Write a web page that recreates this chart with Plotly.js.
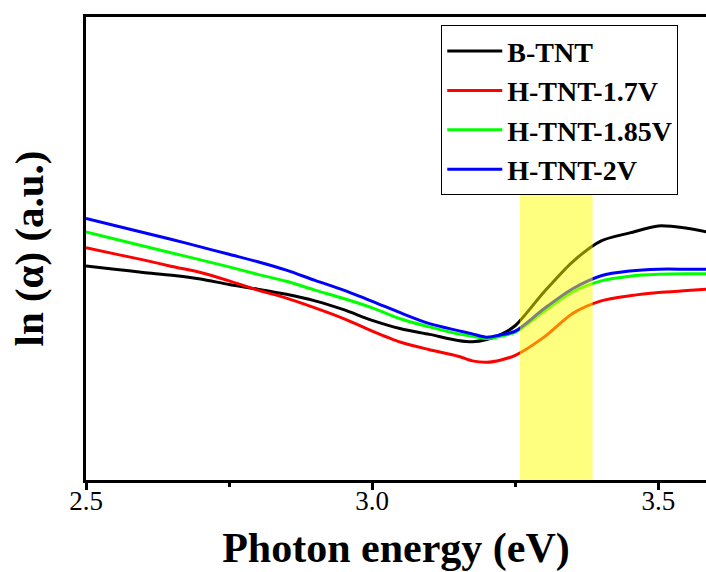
<!DOCTYPE html>
<html>
<head>
<meta charset="utf-8">
<script src="https://cdn.plot.ly/plotly-3.0.1.min.js"></script>
<style>html,body{margin:0;padding:0;background:#fff;}#chart{width:706px;height:572px;}</style>
</head>
<body>
<div id="chart"></div>
<script>
// Photon energy (eV)
const energy = [2.50, 2.55, 2.60, 2.65, 2.70, 2.75, 2.80, 2.85, 2.90, 2.95, 3.00, 3.05, 3.10, 3.15, 3.175, 3.20, 3.225, 3.25, 3.30, 3.35, 3.40, 3.45, 3.50, 3.55, 3.585];
// ln(alpha), arbitrary units
const bTNT    = [46.2, 45.5, 44.8, 44.2, 43.4, 42.2, 41.2, 40.1, 38.7, 36.8, 34.5, 32.7, 31.5, 30.2, 29.9, 30.4, 31.5, 33.4, 40.6, 47.1, 51.6, 53.3, 54.8, 54.3, 53.5];
const hTNT17  = [50.1, 48.8, 47.5, 46.1, 44.8, 43.0, 41.0, 39.3, 37.2, 34.9, 32.2, 29.8, 28.2, 26.8, 25.8, 25.5, 26.0, 27.0, 30.9, 36.0, 38.7, 39.8, 40.5, 40.9, 41.2];
const hTNT185 = [53.5, 52.0, 50.5, 49.0, 47.5, 46.0, 44.4, 42.9, 41.0, 39.2, 37.2, 34.8, 33.1, 31.6, 31.1, 30.6, 31.1, 32.0, 36.4, 40.6, 43.0, 44.0, 44.4, 44.5, 44.5];
const hTNT2   = [56.4, 54.9, 53.4, 51.9, 50.3, 48.7, 47.1, 45.3, 43.1, 41.0, 38.6, 36.1, 33.8, 32.3, 31.6, 30.9, 31.4, 32.2, 37.0, 41.3, 44.1, 45.1, 45.5, 45.5, 45.5];
const seriesNames = ['B-TNT', 'H-TNT-1.7V', 'H-TNT-1.85V', 'H-TNT-2V'];
const seriesColors = ['#000000', '#ff0000', '#00ff00', '#0000ff'];
// highlighted band (eV) and its top (a.u.)
const bandX = [3.258, 3.385];
const bandTop = 62.8;
const xTickVals = [2.5, 3.0, 3.5];
const xTickText = ['2.5', '3.0', '3.5'];

const ys = [bTNT, hTNT17, hTNT185, hTNT2];
const traces = ys.map((y, i) => ({
  x: energy, y: y, type: 'scatter', mode: 'lines', name: seriesNames[i],
  line: {color: seriesColors[i], width: 3, shape: 'spline', smoothing: 0.8}
}));

const serif = 'Liberation Serif';
const layout = {
  width: 706, height: 572,
  font: {family: serif, color: '#000'},
  margin: {l: 86, r: 0, t: 17, b: 92, pad: 0},
  paper_bgcolor: '#fff', plot_bgcolor: '#fff',
  showlegend: true,
  legend: {
    x: 0.573, y: 0.982, xanchor: 'left', yanchor: 'top',
    bgcolor: '#fff', bordercolor: '#000', borderwidth: 1,
    font: {family: serif, size: 28, color: '#000', weight: 'bold'},
    itemwidth: 55,
    tracegroupgap: 0
  },
  xaxis: {
    range: [2.5, 3.583], showgrid: false, zeroline: false,
    showline: true, linecolor: '#000', linewidth: 3, mirror: true,
    ticks: 'outside', ticklen: 7, tickwidth: 3, tickcolor: '#000',
    tickvals: xTickVals, ticktext: xTickText,
    tickfont: {family: serif, size: 27, color: '#000'},
    ticklabelposition: 'outside', ticklabelstandoff: -12,
    minor: {dtick: 0.5, tick0: 2.75, ticks: 'outside', ticklen: 4, tickwidth: 3, tickcolor: '#000', showgrid: false},
    title: {text: 'Photon energy (eV)', font: {family: serif, size: 42, color: '#000', weight: 'bold'}, standoff: 22}
  },
  yaxis: {
    range: [0.2, 99.7], showgrid: false, zeroline: false,
    showline: true, linecolor: '#000', linewidth: 3, mirror: false,
    ticks: '', showticklabels: false,
    title: {text: 'ln (α) (a.u.)', font: {family: serif, size: 41, color: '#000', weight: 'bold'}, standoff: 27}
  },
  shapes: [{
    type: 'rect', xref: 'x', yref: 'y', layer: 'above',
    x0: bandX[0], x1: bandX[1], y0: 0.2, y1: bandTop,
    fillcolor: 'rgba(255,255,0,0.5)', line: {width: 0}
  }]
};
Plotly.newPlot('chart', traces, layout, {displayModeBar: false, staticPlot: true});
</script>
</body>
</html>
